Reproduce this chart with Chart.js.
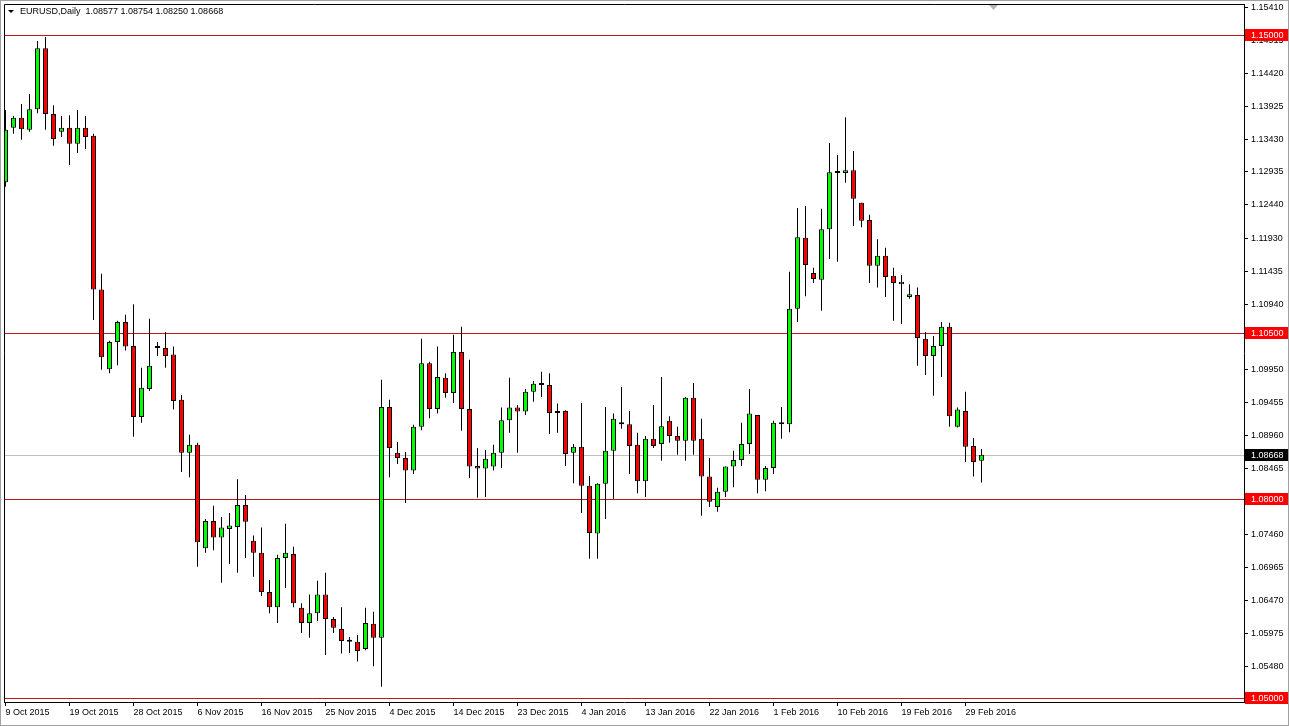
<!DOCTYPE html>
<html>
<head>
<meta charset="utf-8">
<script src="https://cdn.jsdelivr.net/npm/chart.js@4.4.1/dist/chart.umd.min.js"></script>
<style>
  html, body { margin: 0; padding: 0; background: #fff; }
  #wrap { position: relative; width: 1289px; height: 726px; }
  #hdr { position: absolute; left: 20px; top: 6px; font: 9px "Liberation Sans", Arial, sans-serif; line-height: 11px; color: #000; white-space: pre; }
</style>
</head>
<body>
<div id="wrap">
  <canvas id="chart" width="1289" height="726"></canvas>
  <div id="hdr">EURUSD,Daily  1.08577 1.08754 1.08250 1.08668</div>
</div>
<script>
// EURUSD daily, 9 Oct 2015 .. 1 Mar 2016 (one bar per trading day, Sundays included)
const openP = [
  1.1278, 1.1360, 1.1375, 1.1357, 1.1388, 1.1480, 1.1381, 1.1354, 1.1360, 1.1336,
  1.1360, 1.1348, 1.1116, 1.0996, 1.1037, 1.1067, 1.1031, 1.0924, 1.0966, 1.1031,
  1.1028, 1.1018, 1.0950, 1.0870, 1.0882, 1.0726, 1.0767, 1.0742, 1.0755, 1.0758,
  1.0791, 1.0737, 1.0719, 1.0660, 1.0637, 1.0711, 1.0717, 1.0636, 1.0613, 1.0628,
  1.0656, 1.0619, 1.0604, 1.0585, 1.0585, 1.0574, 1.0612, 1.0591, 1.0939, 1.0870,
  1.0862, 1.0843, 1.0909, 1.1005, 1.0936, 1.0983, 1.0960, 1.1022, 1.0936, 1.0850,
  1.0846, 1.0849, 1.0870, 1.0919, 1.0938, 1.0932, 1.0962, 1.0972, 1.0972, 1.0930,
  1.0933, 1.0870, 1.0879, 1.0820, 1.0748, 1.0823, 1.0873, 1.0916, 1.0913, 1.0882,
  1.0827, 1.0891, 1.0883, 1.0918, 1.0895, 1.0888, 1.0953, 1.0891, 1.0834, 1.0788,
  1.0811, 1.0849, 1.0859, 1.0883, 1.0927, 1.0829, 1.0847, 1.0913, 1.0913, 1.1087,
  1.1194, 1.1141, 1.1131, 1.1207, 1.1292, 1.1292, 1.1296, 1.1247, 1.1221, 1.1152,
  1.1167, 1.1137, 1.1124, 1.1105, 1.1108, 1.1042, 1.1016, 1.1031, 1.1060, 1.0909,
  1.0933, 1.0880, 1.08577
];
const highP = [
  1.1387, 1.1378, 1.1396, 1.1411, 1.1491, 1.1497, 1.1394, 1.1378, 1.1379, 1.1387,
  1.1378, 1.1351, 1.1140, 1.1039, 1.1069, 1.1078, 1.1094, 1.0998, 1.1072, 1.1037,
  1.1052, 1.1030, 1.0957, 1.0897, 1.0885, 1.0770, 1.0790, 1.0773, 1.0779, 1.0830,
  1.0806, 1.0745, 1.0757, 1.0678, 1.0716, 1.0763, 1.0728, 1.0643, 1.0656, 1.0677,
  1.0689, 1.0622, 1.0637, 1.0592, 1.0595, 1.0636, 1.0630, 1.0980, 1.0950, 1.0886,
  1.0871, 1.0912, 1.1042, 1.1007, 1.1030, 1.0990, 1.1048, 1.1060, 1.1010, 1.0877,
  1.0874, 1.0882, 1.0938, 1.0983, 1.0942, 1.0966, 1.0978, 1.0992, 1.0990, 1.0944,
  1.0934, 1.0883, 1.0945, 1.0835, 1.0824, 1.0939, 1.0929, 1.0969, 1.0933, 1.0900,
  1.0895, 1.0942, 1.0984, 1.0925, 1.0909, 1.0954, 1.0975, 1.0921, 1.0862, 1.0817,
  1.0849, 1.0873, 1.0915, 1.0966, 1.0927, 1.0850, 1.0918, 1.0939, 1.1143, 1.1239,
  1.1242, 1.1149, 1.1238, 1.1337, 1.1319, 1.1376, 1.1325, 1.1247, 1.1229, 1.1192,
  1.1179, 1.1149, 1.1138, 1.1124, 1.1119, 1.1052, 1.1046, 1.1067, 1.1066, 1.0938,
  1.0962, 1.0892, 1.08754
];
const lowP = [
  1.1271, 1.1351, 1.1342, 1.1354, 1.1382, 1.1357, 1.1333, 1.1346, 1.1304, 1.1322,
  1.1328, 1.1070, 1.0995, 1.0990, 1.1002, 1.1024, 1.0894, 1.0915, 1.0963, 1.1016,
  1.0998, 1.0935, 1.0841, 1.0833, 1.0698, 1.0719, 1.0723, 1.0674, 1.0702, 1.0689,
  1.0711, 1.0683, 1.0654, 1.0628, 1.0613, 1.0666, 1.0637, 1.0598, 1.0591, 1.0616,
  1.0565, 1.0598, 1.0567, 1.0568, 1.0555, 1.0572, 1.0548, 1.0517, 1.0833, 1.0853,
  1.0794, 1.0838, 1.0904, 1.0922, 1.0929, 1.0953, 1.0945, 1.0903, 1.0832, 1.0802,
  1.0803, 1.0843, 1.0847, 1.0900, 1.0870, 1.0927, 1.0947, 1.0954, 1.0898, 1.0900,
  1.0850, 1.0824, 1.0779, 1.0710, 1.0710, 1.0770, 1.0800, 1.0906, 1.0838, 1.0809,
  1.0803, 1.0877, 1.0858, 1.0885, 1.0867, 1.0858, 1.0867, 1.0775, 1.0788, 1.0781,
  1.0803, 1.0818, 1.0850, 1.0868, 1.0809, 1.0812, 1.0838, 1.0891, 1.0901, 1.1067,
  1.1106, 1.1126, 1.1084, 1.1162, 1.1158, 1.1277, 1.1212, 1.1210, 1.1126, 1.1119,
  1.1105, 1.1069, 1.1064, 1.1102, 1.1001, 1.0987, 1.0956, 1.0984, 1.0909, 1.0908,
  1.0856, 1.0834, 1.08250
];
const closeP = [
  1.1357, 1.1375, 1.1358, 1.1388, 1.1480, 1.1381, 1.1343, 1.1360, 1.1336, 1.1360,
  1.1346, 1.1116, 1.1014, 1.1037, 1.1067, 1.1030, 1.0924, 1.0968, 1.1001, 1.1028,
  1.1016, 1.0948, 1.0870, 1.0882, 1.0735, 1.0767, 1.0742, 1.0757, 1.0760, 1.0791,
  1.0766, 1.0719, 1.0660, 1.0637, 1.0711, 1.0719, 1.0643, 1.0613, 1.0628, 1.0656,
  1.0619, 1.0606, 1.0586, 1.0585, 1.0571, 1.0613, 1.0591, 1.0939, 1.0877, 1.0862,
  1.0843, 1.0909, 1.1005, 1.0936, 1.0984, 1.0960, 1.1022, 1.0936, 1.0849, 1.0846,
  1.0861, 1.0870, 1.0919, 1.0938, 1.0932, 1.0962, 1.0974, 1.0972, 1.0930, 1.0933,
  1.0868, 1.0879, 1.0820, 1.0749, 1.0823, 1.0873, 1.0921, 1.0913, 1.0880, 1.0827,
  1.0891, 1.0880, 1.0910, 1.0895, 1.0888, 1.0953, 1.0888, 1.0834, 1.0796, 1.0811,
  1.0849, 1.0859, 1.0883, 1.0929, 1.0829, 1.0847, 1.0915, 1.0913, 1.1087, 1.1195,
  1.1153, 1.1132, 1.1207, 1.1293, 1.1292, 1.1296, 1.1253, 1.1220, 1.1152, 1.1167,
  1.1135, 1.1126, 1.1128, 1.1109, 1.1043, 1.1016, 1.1031, 1.1060, 1.0925, 1.0935,
  1.0879, 1.0856, 1.08668
];

// date labels, one every 8 bars
const dateLabels = ["9 Oct 2015", "19 Oct 2015", "28 Oct 2015", "6 Nov 2015", "16 Nov 2015",
  "25 Nov 2015", "4 Dec 2015", "14 Dec 2015", "23 Dec 2015", "4 Jan 2016", "13 Jan 2016",
  "22 Jan 2016", "1 Feb 2016", "10 Feb 2016", "19 Feb 2016", "29 Feb 2016"];
const labelStep = 8;

// price scale labels as shown by the terminal
const priceTicks = [1.15410, 1.14915, 1.14420, 1.13925, 1.13430, 1.12935, 1.12440, 1.11930,
  1.11435, 1.10940, 1.10445, 1.09950, 1.09455, 1.08960, 1.08465, 1.07960, 1.07460, 1.06965,
  1.06470, 1.05975, 1.05480, 1.04985];

const levels = [1.15000, 1.10500, 1.08000, 1.05000]; // horizontal lines
const lastPrice = 1.08668;

const idx = openP.map((_, i) => i);
const bodyColors = idx.map(i => closeP[i] > openP[i] ? "#00ff00" : (closeP[i] < openP[i] ? "#ff0000" : "#000000"));

const axisFont = { family: '"Liberation Sans", Arial, sans-serif', size: 9 };

// lines, price boxes and frame (MT4 look)
const mtPlugin = {
  id: "mt",
  beforeDatasetsDraw(chart) {
    const { ctx, chartArea: a, scales: { y } } = chart;
    ctx.save();
    ctx.lineWidth = 1;
    ctx.strokeStyle = "#c0c0c0";
    let py = Math.round(y.getPixelForValue(lastPrice)) + 0.5;
    ctx.beginPath(); ctx.moveTo(a.left, py); ctx.lineTo(a.right, py); ctx.stroke();
    ctx.strokeStyle = "#c41818";
    levels.forEach(v => {
      const ly = Math.round(y.getPixelForValue(v)) + 0.5;
      ctx.beginPath(); ctx.moveTo(a.left, ly); ctx.lineTo(a.right, ly); ctx.stroke();
    });
    ctx.restore();
  },
  afterDraw(chart) {
    const { ctx, chartArea: a, scales: { y } } = chart;
    ctx.save();
    // frame
    ctx.strokeStyle = "#000";
    ctx.lineWidth = 1;
    ctx.beginPath();
    ctx.moveTo(a.left + 0.5, a.bottom); ctx.lineTo(a.left + 0.5, a.top + 0.5); ctx.lineTo(a.right, a.top + 0.5);
    ctx.stroke();
    ctx.strokeStyle = "#a0a0a0";
    ctx.strokeRect(0.5, 0.5, chart.width - 1, chart.height - 1);
    // shift marker and header triangle
    ctx.fillStyle = "#b4b4b4";
    ctx.beginPath(); ctx.moveTo(989, 5); ctx.lineTo(998, 5); ctx.lineTo(993.5, 10); ctx.closePath(); ctx.fill();
    ctx.fillStyle = "#000";
    ctx.beginPath(); ctx.moveTo(8, 10); ctx.lineTo(14, 10); ctx.lineTo(11, 13); ctx.closePath(); ctx.fill();
    // price boxes on the right scale
    ctx.font = '9px "Liberation Sans", Arial, sans-serif';
    ctx.textBaseline = "middle";
    const box = (v, bg) => {
      const by = Math.round(y.getPixelForValue(v));
      ctx.fillStyle = bg;
      ctx.fillRect(a.right + 1, by - 6, 43, 12);
      ctx.fillStyle = "#fff";
      ctx.fillText(v.toFixed(5), a.right + 7, by + 0.5);
    };
    levels.forEach(v => box(v, "#ff0000"));
    box(lastPrice, "#000000");
    ctx.restore();
  }
};

const ctx = document.getElementById("chart").getContext("2d");
new Chart(ctx, {
  type: "bar",
  data: {
    datasets: [
      {
        label: "wick",
        data: idx.map(i => ({ x: i, y: [lowP[i], highP[i]] })),
        backgroundColor: "#000000",
        barThickness: 1,
        grouped: false,
        inflateAmount: 0,
        order: 2
      },
      {
        label: "body",
        data: idx.map(i => ({ x: i, y: [openP[i], closeP[i]] })),
        backgroundColor: bodyColors,
        borderColor: "#000000",
        borderWidth: 1,
        borderSkipped: false,
        barThickness: 5,
        minBarLength: 2,
        grouped: false,
        inflateAmount: 0,
        order: 1
      }
    ]
  },
  options: {
    responsive: false,
    animation: false,
    layout: { padding: { left: 4, top: 4, right: 0, bottom: 0 } },
    plugins: { legend: { display: false }, tooltip: { enabled: false } },
    scales: {
      x: {
        type: "linear",
        min: -0.1875,
        max: 154.8125,
        offset: false,
        afterBuildTicks: s => { s.ticks = dateLabels.map((_, k) => ({ value: k * labelStep })); },
        afterFit: s => { s.height = 24; s.paddingLeft = 0; s.paddingRight = 0; },
        ticks: {
          callback: v => dateLabels[Math.round(v / labelStep)],
          align: "start",
          autoSkip: false,
          maxRotation: 0,
          padding: 1,
          color: "#000",
          font: axisFont
        },
        grid: { drawOnChartArea: false, offset: false, tickLength: 4, color: "#000" },
        border: { color: "#000" }
      },
      y: {
        position: "right",
        min: 1.049396,
        max: 1.154675,
        afterBuildTicks: s => { s.ticks = priceTicks.map(v => ({ value: v })); },
        afterFit: s => { s.width = 45; s.paddingTop = 0; s.paddingBottom = 0; },
        ticks: {
          callback: v => v.toFixed(5),
          padding: 3,
          color: "#000",
          font: axisFont
        },
        grid: { drawOnChartArea: false, tickLength: 4, color: "#000" },
        border: { color: "#000" }
      }
    }
  },
  plugins: [mtPlugin]
});
</script>
</body>
</html>
